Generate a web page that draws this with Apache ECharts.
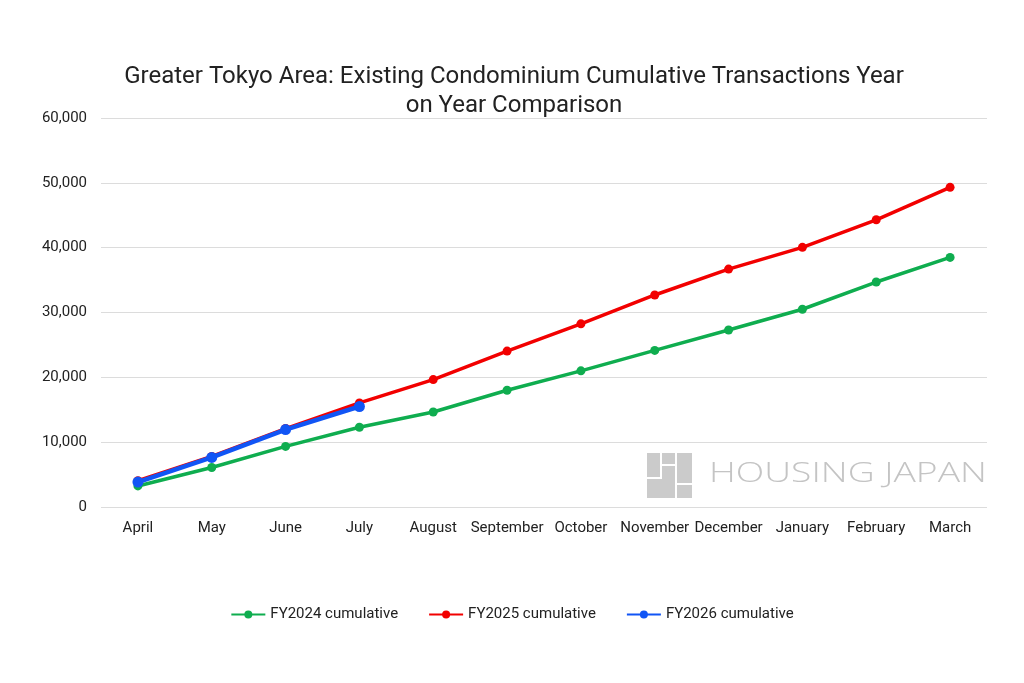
<!DOCTYPE html>
<html>
<head>
<meta charset="utf-8">
<script src="https://cdn.jsdelivr.net/npm/echarts@6/dist/echarts.min.js"></script>
<style>
	html, body { margin: 0; padding: 0; background: #fff; }
	#charts { width: 1024px; height: 683px; }
</style>
</head>
<body>
<div id="charts"></div>
<script>
const months = ['April', 'May', 'June', 'July', 'August', 'September', 'October', 'November', 'December', 'January', 'February', 'March'];
const fy2024 = [3250, 6100, 9350, 12300, 14650, 18000, 21000, 24150, 27300, 30500, 34700, 38500];
const fy2025 = [4050, 7800, 12100, 16050, 19650, 24050, 28250, 32700, 36700, 40050, 44300, 49300];
const fy2026 = [3850, 7650, 11950, 15500];
const yTicks = { min: 0, max: 60000, interval: 10000 };

const myChart = echarts.init(document.getElementById('charts'));
const font = 'Roboto, "Noto Sans", sans-serif';

const makeSeries = (name, color, data, width, size) => ({
	type: 'line',
	name: name,
	data: data,
	color: color,
	symbol: 'circle',
	symbolSize: size,
	lineStyle: { width: width, color: color },
	itemStyle: { color: color },
	emphasis: { disabled: true }
});

// logo blocks for the watermark
const logo = [
	[0, 0, 13, 24], [15, 0, 13, 11], [15, 13, 13, 18], [30, 0, 15, 30],
	[0, 26, 28, 19], [30, 32, 15, 13]
].map(r => ({
	type: 'rect',
	left: 647 + r[0], top: 453 + r[1],
	shape: { width: r[2], height: r[3] },
	style: { fill: '#cbcbcb' },
	silent: true
}));

let option = {
	animation: false,
	backgroundColor: '#ffffff',
	textStyle: { fontFamily: font },
	title: {
		text: 'Greater Tokyo Area: Existing Condominium Cumulative Transactions Year\non Year Comparison',
		left: 509,
		top: 57,
		textAlign: 'center',
		textStyle: { fontFamily: font, fontSize: 24, fontWeight: 'normal', color: '#222', lineHeight: 29 }
	},
	legend: {
		bottom: 56,
		left: 'center',
		itemWidth: 34,
		itemHeight: 10,
		itemGap: 30,
		itemStyle: { borderWidth: 0 },
		textStyle: { fontFamily: font, fontSize: 15, color: '#222' },
		data: ['FY2024 cumulative', 'FY2025 cumulative', 'FY2026 cumulative']
	},
	grid: {
		left: 101,
		right: 37,
		top: 118,
		bottom: 176
	},
	xAxis: {
		type: 'category',
		boundaryGap: true,
		data: months,
		axisLine: { show: false },
		axisTick: { show: false },
		axisLabel: { fontFamily: font, fontSize: 15, color: '#222', margin: 14, interval: 0 }
	},
	yAxis: {
		type: 'value',
		min: yTicks.min,
		max: yTicks.max,
		interval: yTicks.interval,
		axisLine: { show: false },
		axisTick: { show: false },
		axisLabel: {
			fontFamily: font, fontSize: 15, color: '#222', margin: 14,
			formatter: v => v.toLocaleString('en-US')
		},
		splitLine: { lineStyle: { color: '#dcdcdc', width: 1 } }
	},
	graphic: [
		...logo,
		{
			type: 'text',
			x: 709, y: 461,
			scaleX: 1.38,
			silent: true,
			style: { text: 'HOUSING JAPAN', fontFamily: '"Open Sans", Lato, sans-serif', fontSize: 27, fontWeight: 300, fill: '#c4c4c4' }
		}
	],
	series: [
		makeSeries('FY2024 cumulative', '#0fad4f', fy2024, 3.5, 9),
		makeSeries('FY2025 cumulative', '#f20000', fy2025, 3.5, 9),
		makeSeries('FY2026 cumulative', '#1155f5', fy2026, 4.5, 11)
	]
};

myChart.setOption(option);
</script>
</body>
</html>
